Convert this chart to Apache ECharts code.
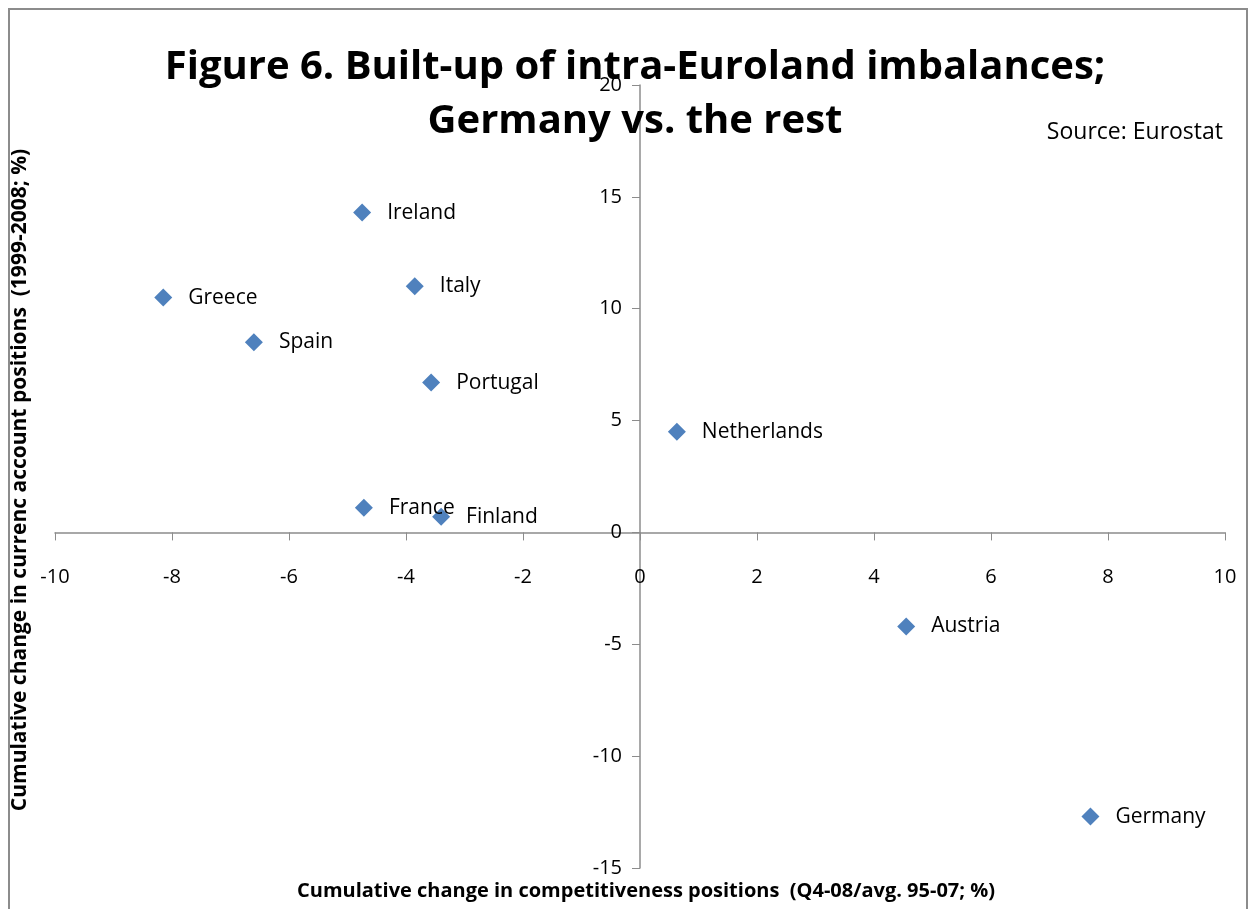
<!DOCTYPE html>
<html>
<head>
<meta charset="utf-8">
<script src="https://cdn.jsdelivr.net/npm/echarts@6/dist/echarts.min.js"></script>
<style>
  html, body { margin: 0; padding: 0; background: #fff; }
  #chart { position: absolute; left: 0; top: 0; width: 1256px; height: 909px; }
  .frame { position: absolute; left: 8px; top: 8px; width: 1240px; height: 910px; border: 2px solid #8c8c8c; box-sizing: border-box; pointer-events: none; }
</style>
</head>
<body>
<div id="chart"></div>
<div class="frame"></div>
<script>
// countries and their (competitiveness change, current account change)
const countries = ['Ireland', 'Greece', 'Italy', 'Spain', 'Portugal', 'Netherlands', 'France', 'Finland', 'Austria', 'Germany']
const competitiveness = [-4.75, -8.15, -3.85, -6.6, -3.57, 0.63, -4.72, -3.4, 4.55, 7.7]
const currentAccount = [14.3, 10.5, 11.0, 8.5, 6.7, 4.5, 1.1, 0.7, -4.2, -12.7]

const xName = 'Cumulative change in competitiveness positions  (Q4-08/avg. 95-07; %)'
const yName = 'Cumulative change in currenc account positions  (1999-2008; %)'

const font = '"Open Sans", sans-serif'

const grid = { left: 55, right: 31, top: 85, bottom: 41 }
const width = 1256, height = 909

const chart = echarts.init(document.getElementById('chart'))

const points = countries.map((name, i) => ({
  name: name,
  value: [competitiveness[i], currentAccount[i]]
}))

chart.setOption({
  animation: false,
  title: [
    {
      text: 'Figure 6. Built-up of intra-Euroland imbalances;\nGermany vs. the rest',
      left: 630,
      top: 36,
      textAlign: 'center',
      textStyle: { fontFamily: font, fontSize: 40, fontWeight: 'bold', color: '#000', lineHeight: 54 }
    },
    {
      text: 'Source: Eurostat',
      right: 28,
      top: 116,
      textStyle: { fontFamily: font, fontSize: 23, fontWeight: 'normal', color: '#000' }
    },
    {
      text: xName,
      left: 641,
      top: 876,
      textAlign: 'center',
      textStyle: { fontFamily: font, fontSize: 20, fontWeight: 'bold', color: '#000' }
    }
  ],
  graphic: [
    {
      type: 'text',
      x: 20,
      y: 480,
      rotation: Math.PI / 2,
      style: {
        text: yName,
        fontFamily: font,
        fontSize: 21,
        fontWeight: 'bold',
        fill: '#000',
        align: 'center',
        verticalAlign: 'middle'
      }
    }
  ],
  grid: Object.assign({ containLabel: false, outerBoundsMode: 'none' }, grid),
  xAxis: {
    type: 'value',
    min: -10,
    max: 10,
    interval: 2,
    // move the axis up to y = 0 (labels included)
    offset: -((height - grid.top - grid.bottom) * 15 / 35),
    axisLine: { onZero: false, lineStyle: { color: '#8c8c8c', width: 1.5 } },
    axisTick: { show: true, length: 8, lineStyle: { color: '#8c8c8c' } },
    axisLabel: { margin: 35, fontFamily: font, fontSize: 20, color: '#000' },
    splitLine: { show: false }
  },
  yAxis: {
    type: 'value',
    min: -15,
    max: 20,
    interval: 5,
    // move the axis right to x = 0 (labels included)
    offset: -((width - grid.left - grid.right) / 2),
    axisLine: { onZero: false, lineStyle: { color: '#8c8c8c', width: 1.5 } },
    axisTick: { show: true, length: 8, lineStyle: { color: '#8c8c8c' } },
    axisLabel: { margin: 18, fontFamily: font, fontSize: 20, color: '#000' },
    splitLine: { show: false }
  },
  series: [
    {
      type: 'scatter',
      data: points,
      symbol: 'diamond',
      symbolSize: 18,
      itemStyle: { color: '#4f81bd', opacity: 1 },
      label: {
        show: true,
        position: 'right',
        distance: 16,
        formatter: '{b}',
        fontFamily: font,
        fontSize: 21,
        color: '#000'
      }
    }
  ]
})
</script>
</body>
</html>
